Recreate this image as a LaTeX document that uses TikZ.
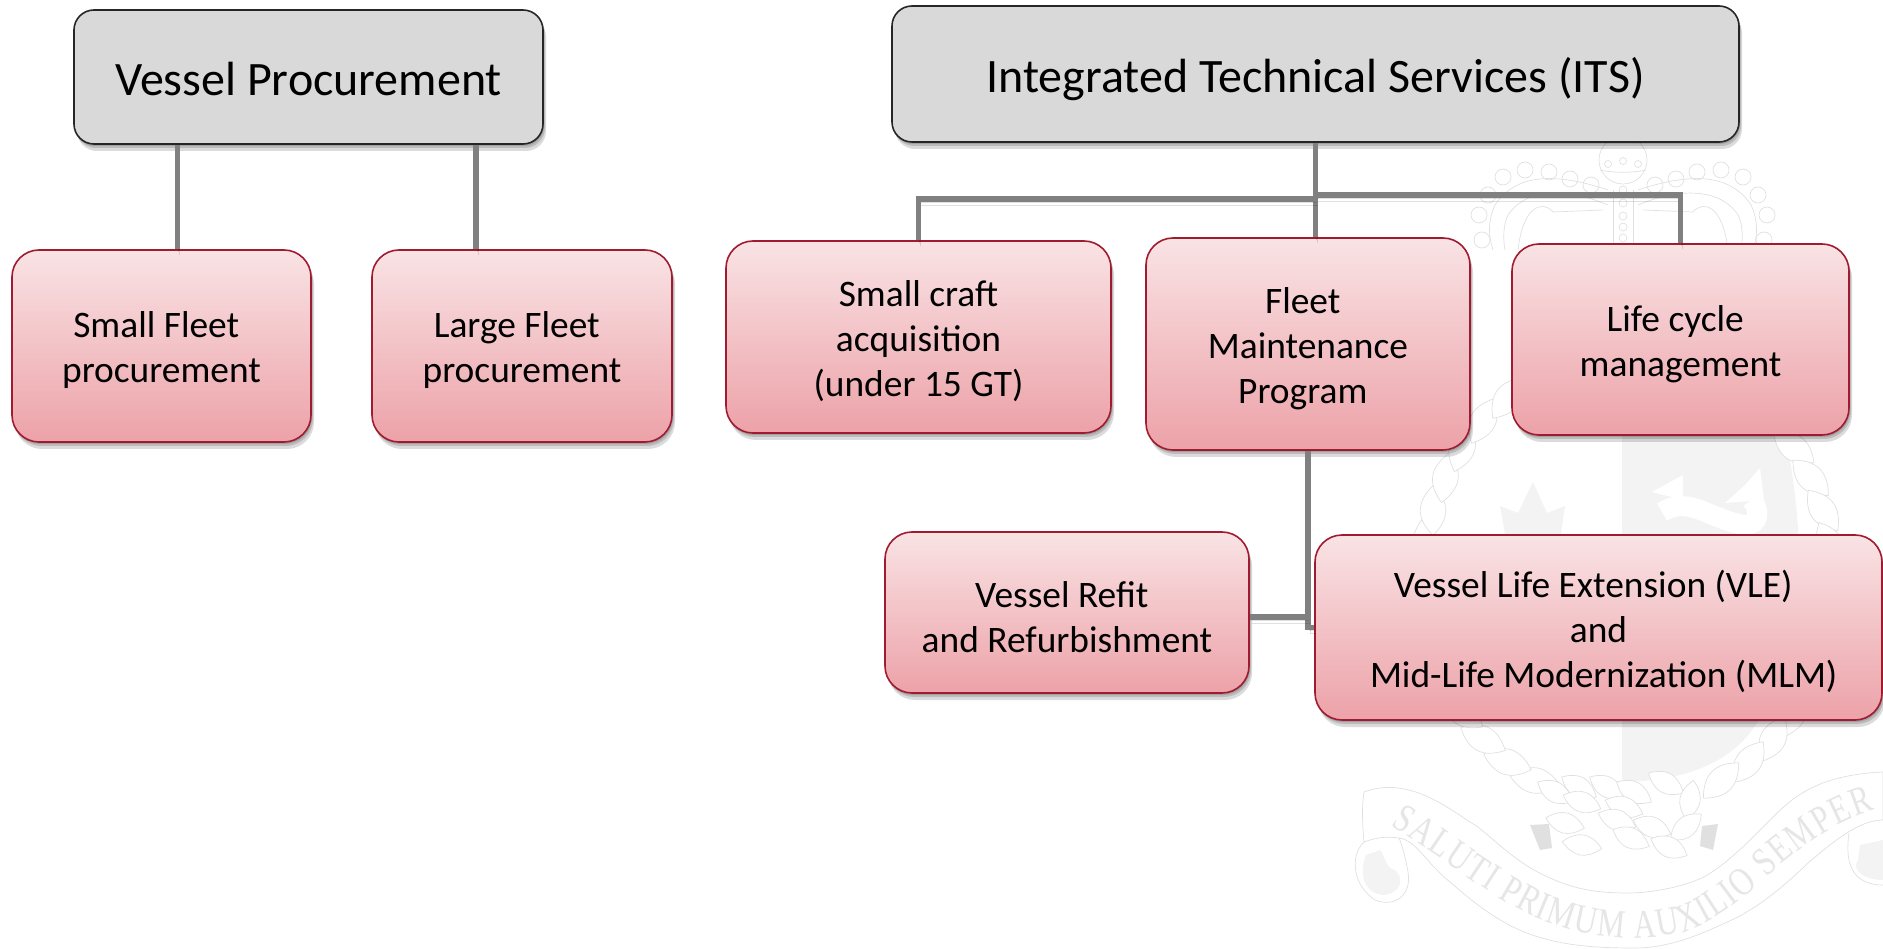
\documentclass[tikz,border=0pt]{standalone}
\usepackage{fontspec}
\setmainfont{Carlito}
\newfontfamily\crestfont[FakeStretch=.78]{Liberation Serif}
\usetikzlibrary{positioning, shadows, decorations.text}
\definecolor{headgray}{HTML}{D9D9D9}
\definecolor{linkgray}{HTML}{808080}
\definecolor{pinktop}{HTML}{F9E3E5}
\definecolor{pinkbottom}{HTML}{ECA2A8}
\definecolor{boxred}{HTML}{A01B30}
\definecolor{crestline}{HTML}{E0E0E0}
\definecolor{crestfill}{HTML}{F3F3F3}
\definecolor{cresttext}{HTML}{E6E6E6}
\tikzset{
  softshadow/.style={
    drop shadow={shadow xshift=1pt,shadow yshift=-2pt,fill=black,opacity=.14},
    drop shadow={shadow xshift=2pt,shadow yshift=-4pt,fill=black,opacity=.14},
    drop shadow={shadow xshift=3pt,shadow yshift=-7pt,fill=black,opacity=.14}},
  headbox/.style={draw=black!85,line width=1.6pt,fill=headgray,rounded corners=20pt,
    align=center,inner sep=0pt,softshadow,font=\fontsize{48}{56}\selectfont},
  subbox/.style={draw=boxred,line width=1.6pt,top color=pinktop,bottom color=pinkbottom,
    rounded corners=27pt,align=center,inner sep=0pt,softshadow,font=\fontsize{37.4}{45}\selectfont},
  link/.style={draw=linkgray,line width=5.5pt,
    preaction={draw=black,opacity=.12,transform canvas={shift={(1pt,-3pt)}}},
    preaction={draw=black,opacity=.12,transform canvas={shift={(2pt,-6pt)}}}},
  crest/.style={draw=crestline,line width=.7pt},
}
\newcommand{\tsp}{\hspace*{.28em}}
\newcommand{\lowr}{\rule{0pt}{35pt}}
\newcommand{\headr}{\rule{0pt}{45pt}\vphantom{g}}
\newcommand{\strand}{(-25,0) .. controls (-8,-17) and (8,-17) .. (25,0) .. controls (8,17) and (-8,17) .. (-25,0)}
\begin{document}
\begin{tikzpicture}[x=1pt,y=-1pt,on grid]
  \clip (0,0) rectangle (1883,949);
  % crest behind the boxes
  \fill[crestfill] (1622,430) -- (1785,430) .. controls (1805,540) and (1810,640) .. (1759,720)
    .. controls (1735,760) and (1690,781) .. (1622,782) -- cycle;
  \draw[white,line width=20pt] (1662,512) .. controls (1690,495) and (1710,520) .. (1745,525)
    .. controls (1760,525) and (1760,510) .. (1752,500);
  \fill[white] (1652,492) -- (1683,475) -- (1683,500) -- cycle;
  \fill[white] (1725,503) -- (1745,485) -- (1760,468) -- (1764,500) -- cycle;
  \fill[crestfill] (1533,482) -- (1547,513) -- (1565,506) -- (1560,540) -- (1506,540) -- (1500,506) -- (1518,513) -- cycle;
  \foreach \a in {-45,-36,...,63,117,126,...,235}
    \draw[crest,fill=white,shift={({1628+205*cos(\a)},{580+225*sin(\a)})},rotate={108-\a}] \strand;
  % knot
  \foreach \kx/\ky/\kr in {1555/792/-30,1579/787/-30,1607/787/-30,1634/792/-30,1666/783/-30,1690/800/80,
      1582/802/-20,1624/807/-20,1565/823/-15,1617/820/-20,1652/827/-20,1686/827/40,
      1582/845/-10,1631/838/-25,1669/847/-25}
    \draw[crest,fill=white,shift={(\kx,\ky)},rotate=\kr,scale=.8] \strand;
  \fill[crestline] (1530,825) -- (1549,824) -- (1552,848) -- (1540,850) -- cycle;
  \fill[crestline] (1702,826) -- (1718,824) -- (1713,850) -- (1700,846) -- cycle;
  % crown
  \draw[crest] (1623,160) circle (24);
  \draw[crest] (1600,170) .. controls (1612,173) and (1634,173) .. (1646,170);
  \foreach \px/\py in {1608/164,1623/161,1638/164}
    \draw[crest] (\px,\py) circle (3.5);
  \draw[crest] (1613,190) -- (1613,250) (1633,190) -- (1633,250);
  \foreach \py in {190,203,216,227,238}
    \draw[crest] (1623,\py) circle (4);
  \foreach \s in {-1,1} {
    \begin{scope}[xshift=1623pt,xscale=\s]
      \foreach \px/\py in {120/177,98/170,74/172,53/179,32/185,135/195,144/215,141/240}
        \draw[crest] (\px,\py) circle (8);
      \draw[crest] (15,190) .. controls (60,175) and (105,170) .. (128,205) .. controls (135,220) and (135,235) .. (130,250);
      \draw[crest] (15,205) .. controls (50,190) and (95,185) .. (115,215) .. controls (120,225) and (120,240) .. (118,250);
      \draw[crest] (20,210) -- (70,212) .. controls (80,200) and (100,205) .. (105,250);
    \end{scope}}
  % scroll
  \draw[crest,fill=white] (1364,842) .. controls (1362,820) and (1362,805) .. (1364,792)
    .. controls (1410,775) and (1450,810) .. (1478,827) .. controls (1500,845) and (1520,865) .. (1548,877)
    .. controls (1575,890) and (1600,893) .. (1627,893) .. controls (1650,893) and (1680,888) .. (1704,877)
    .. controls (1730,862) and (1755,835) .. (1773,817) .. controls (1795,795) and (1820,775) .. (1883,772)
    -- (1883,820) .. controls (1860,820) and (1835,840) .. (1808,863)
    .. controls (1780,890) and (1760,905) .. (1738,917) .. controls (1700,935) and (1670,948) .. (1634,948)
    .. controls (1590,948) and (1550,945) .. (1513,927) .. controls (1480,910) and (1460,890) .. (1444,877)
    .. controls (1425,860) and (1415,840) .. (1399,838) .. controls (1385,836) and (1375,838) .. (1364,842);
  \draw[crest] (1364,842) .. controls (1350,855) and (1352,885) .. (1375,900) .. controls (1395,908) and (1412,895) .. (1408,872)
    .. controls (1405,855) and (1402,845) .. (1399,838);
  \fill[crestfill] (1366,855) .. controls (1358,875) and (1365,895) .. (1385,895) .. controls (1402,892) and (1404,878) .. (1395,870)
    .. controls (1385,868) and (1385,855) .. (1380,850) -- cycle;
  \draw[crest] (1849,833) .. controls (1845,860) and (1850,885) .. (1883,885);
  \fill[crestfill] (1860,845) -- (1883,840) -- (1883,880) .. controls (1865,880) and (1850,870) .. (1858,860) -- cycle;
  \path[decorate,decoration={text along path,text align=fit to path,
      text={|\crestfont\fontsize{40}{40}\selectfont\color{cresttext}|SALUTI PRIMUM AUXILIO SEMPER}}]
    (1390,826) .. controls (1440,855) and (1480,890) .. (1530,915) .. controls (1580,938) and (1640,945) .. (1690,930)
    .. controls (1740,910) and (1770,870) .. (1800,850) .. controls (1825,830) and (1850,818) .. (1875,810);
  % boxes
  \node[headbox,minimum width=469pt,minimum height=134pt] (vesselproc) at (308.5,77) {\headr Vessel Procurement};
  \node[subbox,minimum width=299pt,minimum height=192pt] (smallfleet) [below left=269pt and 147pt of vesselproc] {\lowr Small Fleet\tsp\\procurement};
  \node[subbox,minimum width=300pt,minimum height=192pt] (largefleet) [right=360.5pt of smallfleet] {\lowr Large Fleet\tsp\\procurement};
  \node[headbox,minimum width=847pt,minimum height=136pt] (its) at (1315.5,74) {\headr Integrated Technical Services (ITS)};
  \node[subbox,minimum width=324pt,minimum height=212pt] (fleet) [below left=270pt and 7.5pt of its] {\lowr Fleet\tsp\\Maintenance\\Program\tsp};
  \node[subbox,minimum width=385pt,minimum height=192pt] (smallcraft) [below left=263pt and 397pt of its] {\lowr Small craft\\acquisition\\(under 15 GT)};
  \node[subbox,minimum width=337pt,minimum height=191pt] (lifecycle) [below right=265.5pt and 365pt of its] {\lowr Life cycle\tsp\\management};
  \node[subbox,minimum width=364pt,minimum height=161pt] (refit) [below left=268.5pt and 241pt of fleet] {\lowr Vessel Refit\tsp\\and Refurbishment};
  \node[subbox,minimum width=567pt,minimum height=185pt] (vle) [below right=283.5pt and 290.5pt of fleet] {\lowr Vessel Life Extension (VLE)\tsp\\and\\\tsp Mid-Life Modernization (MLM)};
  % connectors
  \coordinate (itsleft) at ([yshift=-56pt]its.south);
  \coordinate (itsright) at ([yshift=-52pt]its.south);
  \coordinate (refitout) at ([yshift=-4.5pt]refit.east);
  \draw[link] ([xshift=16pt]smallfleet.north) -- ([xshift=16pt]smallfleet.north |- vesselproc.south);
  \draw[link] ([xshift=-46pt]largefleet.north) -- ([xshift=-46pt]largefleet.north |- vesselproc.south);
  \draw[link] (its.south) -- (its.south |- fleet.north);
  \draw[link] (smallcraft.north) |- (itsleft);
  \draw[link] (lifecycle.north) |- (itsright);
  \draw[link] (fleet.south) |- (vle.west);
  \draw[link] (refitout) -- (refitout -| fleet.south);
\end{tikzpicture}
\end{document}
